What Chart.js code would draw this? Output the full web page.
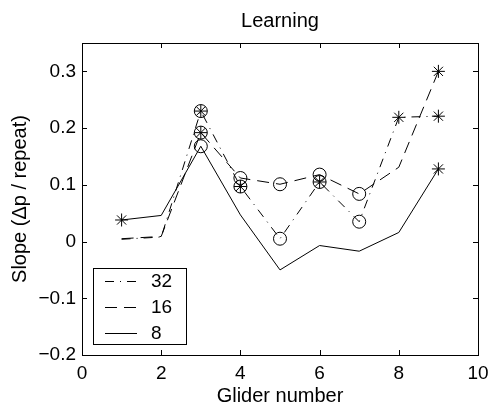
<!DOCTYPE html>
<html>
<head>
<meta charset="utf-8">
<title>Learning</title>
<script src="https://cdn.jsdelivr.net/npm/chart.js@4.4.1/dist/chart.umd.min.js"></script>
<style>
  html, body { margin: 0; padding: 0; background: #fff; }
  #wrap { width: 490px; height: 410px; }
</style>
</head>
<body>
<div id="wrap"><canvas id="chart" width="490" height="410"></canvas></div>
<script>
// values
const gliders = [1, 2, 3, 4, 5, 6, 7, 8, 9];
const slope32 = [0.004, 0.008, 0.230, 0.097, 0.005, 0.105, 0.035, 0.219, 0.221];
const slope16 = [0.005, 0.009, 0.192, 0.112, 0.101, 0.118, 0.084, 0.131, 0.300];
const slope8  = [0.038, 0.046, 0.168, 0.047, -0.050, -0.007, -0.017, 0.016, 0.128];

// markers per point: "o" circle, "*" asterisk, "o*" both, "" none
const marks32 = ["", "", "o*", "o*", "o", "o*", "o", "*", "*"];
const marks16 = ["", "", "o*", "o", "o", "o", "o", "", "*"];
const marks8  = ["*", "", "o", "", "", "", "", "", "*"];

const seriesLabels = ["32", "16", "8"];
const xTicks = [0, 2, 4, 6, 8, 10];
const yTicks = [-0.2, -0.1, 0, 0.1, 0.2, 0.3];
const yTickLabels = ["−0.2", "−0.1", "0", "0.1", "0.2", "0.3"];

const FONT = "'Liberation Sans', Arial, Helvetica, sans-serif";
const dashes = [[9, 6, 1, 6], [12, 7], []];

const series = [
  { label: seriesLabels[0], values: slope32, marks: marks32, dash: dashes[0] },
  { label: seriesLabels[1], values: slope16, marks: marks16, dash: dashes[1] },
  { label: seriesLabels[2], values: slope8,  marks: marks8,  dash: dashes[2] }
];

function points(values, marks, code) {
  return gliders
    .map((g, i) => ({ x: g, y: values[i], m: marks ? marks[i] : "" }))
    .filter(p => code === null || p.m.includes(code));
}

const datasets = [];
series.forEach(s => {
  datasets.push({
    label: s.label,
    isSeries: true,
    data: points(s.values, null, null),
    borderColor: "#000",
    borderWidth: 1,
    borderDash: s.dash,
    pointRadius: 0,
    tension: 0,
    fill: false
  });
});
// marker overlays (circles and asterisks drawn separately so both can sit on one point)
series.forEach(s => {
  ["o", "*"].forEach(code => {
    datasets.push({
      label: s.label + code,
      data: points(s.values, s.marks, code),
      showLine: false,
      pointStyle: code === "o" ? "circle" : "star",
      pointRadius: 6.5,
      pointHoverRadius: 6.5,
      pointBorderColor: "#000",
      pointBackgroundColor: "rgba(0,0,0,0)",
      pointBorderWidth: 1
    });
  });
});

// box around the axes with inward ticks, like the original plot
const axesFrame = {
  id: "axesFrame",
  afterDraw(chart) {
    const { ctx, chartArea: a, scales } = chart;
    const len = 5;
    ctx.save();
    ctx.strokeStyle = "#000";
    ctx.lineWidth = 1;
    ctx.strokeRect(a.left + 0.5, a.top + 0.5, a.right - a.left, a.bottom - a.top);
    ctx.beginPath();
    scales.x.ticks.forEach(t => {
      const px = Math.round(scales.x.getPixelForValue(t.value)) + 0.5;
      ctx.moveTo(px, a.bottom); ctx.lineTo(px, a.bottom - len);
      ctx.moveTo(px, a.top); ctx.lineTo(px, a.top + len);
    });
    scales.y.ticks.forEach(t => {
      const py = Math.round(scales.y.getPixelForValue(t.value)) + 0.5;
      ctx.moveTo(a.left, py); ctx.lineTo(a.left + len, py);
      ctx.moveTo(a.right, py); ctx.lineTo(a.right - len, py);
    });
    ctx.stroke();
    ctx.restore();
  }
};

// boxed legend in the lower-left corner of the plot
const legendBox = {
  id: "legendBox",
  afterDraw(chart) {
    const { ctx, chartArea: a } = chart;
    const items = chart.data.datasets.filter(d => d.isSeries);
    const w = 93, h = 76;
    const x = Math.round(a.left + 11), y = Math.round(a.bottom - 11 - h);
    ctx.save();
    ctx.fillStyle = "#fff";
    ctx.fillRect(x, y, w, h);
    ctx.strokeStyle = "#000";
    ctx.lineWidth = 1;
    ctx.strokeRect(x + 0.5, y + 0.5, w, h);
    ctx.font = "19px " + FONT;
    ctx.fillStyle = "#000";
    ctx.textBaseline = "middle";
    items.forEach((d, i) => {
      const rowY = y + 13 + i * 26 + 0.5;
      ctx.setLineDash(d.borderDash || []);
      ctx.beginPath();
      ctx.moveTo(x + 12, rowY);
      ctx.lineTo(x + 44, rowY);
      ctx.stroke();
      ctx.setLineDash([]);
      ctx.fillText(d.label, x + 58, rowY);
    });
    ctx.restore();
  }
};

new Chart(document.getElementById("chart"), {
  type: "line",
  data: { datasets },
  plugins: [axesFrame, legendBox],
  options: {
    responsive: false,
    animation: false,
    devicePixelRatio: 1,
    layout: { padding: { top: 0, right: 12, bottom: 0, left: 0 } },
    plugins: {
      legend: { display: false },
      tooltip: { enabled: false },
      title: {
        display: true,
        fullSize: false,
        text: "Learning",
        color: "#000",
        font: { family: FONT, size: 20, weight: "normal" },
        padding: { top: 9, bottom: 10 }
      }
    },
    scales: {
      x: {
        type: "linear",
        min: 0,
        max: 10,
        afterBuildTicks: s => { s.ticks = xTicks.map(v => ({ value: v })); },
        afterFit: s => { s.height = 55; s.paddingLeft = 0; s.paddingRight = 0; },
        grid: { display: false, drawTicks: false },
        border: { display: false },
        ticks: { color: "#000", font: { family: FONT, size: 19 }, padding: 7, maxRotation: 0 },
        title: {
          display: true,
          text: "Glider number",
          color: "#000",
          font: { family: FONT, size: 20 },
          padding: { top: 0, bottom: 2 }
        }
      },
      y: {
        type: "linear",
        min: -0.2,
        max: 0.35,
        afterBuildTicks: s => { s.ticks = yTicks.map(v => ({ value: v })); },
        afterFit: s => { s.width = 82; s.paddingTop = 0; s.paddingBottom = 0; },
        grid: { display: false, drawTicks: false },
        border: { display: false },
        ticks: {
          color: "#000",
          font: { family: FONT, size: 19 },
          padding: 6,
          callback: v => yTickLabels[yTicks.findIndex(t => Math.abs(t - v) < 1e-9)]
        },
        title: {
          display: true,
          text: "Slope (Δp / repeat)",
          color: "#000",
          font: { family: FONT, size: 20 },
          padding: { top: 8, bottom: 0 }
        }
      }
    }
  }
});
</script>
</body>
</html>
